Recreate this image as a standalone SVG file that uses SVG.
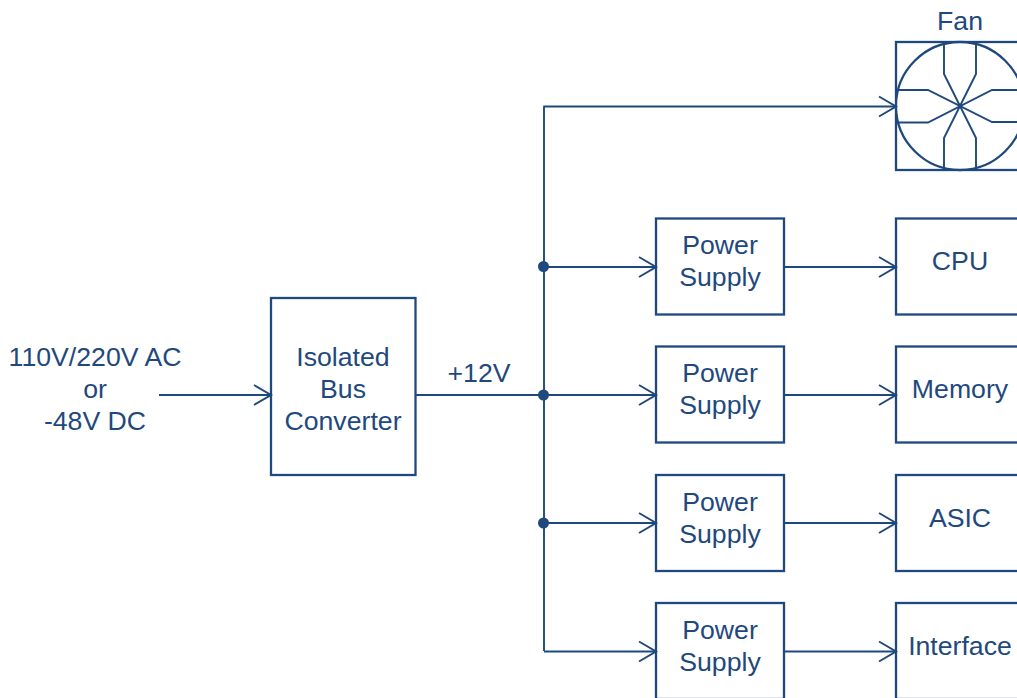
<svg xmlns="http://www.w3.org/2000/svg" width="1017" height="698" viewBox="0 0 1017 698">
<defs>
<style>
.b{fill:#fff;stroke:#1f497d;stroke-width:2.3}
.l{fill:none;stroke:#1f497d;stroke-width:1.9;stroke-linejoin:round}
.f{fill:none;stroke:#1f497d;stroke-width:1.9}
.d{fill:#1f497d}
text{font-family:"Liberation Sans",Arial,sans-serif;font-size:26.670px;fill:#1f497d;text-anchor:middle}
</style>
<marker id="a" markerUnits="userSpaceOnUse" markerWidth="20" markerHeight="24" refX="18" refY="11" orient="auto" overflow="visible"><path d="M1 1L18 11L1 21" fill="none" stroke="#1f497d" stroke-width="2"/></marker>
</defs>
<rect width="1017" height="698" fill="#fff"/>
<g id="input-label"><text x="95" y="366">110V/220V AC</text><text x="95" y="398">or</text><text x="95" y="430">-48V DC</text></g>
<g id="bus-converter"><rect class="b" x="271" y="298" width="144.500" height="177"/><text x="343" y="366">Isolated</text><text x="343" y="398">Bus</text><text x="343" y="430">Converter</text></g>
<g id="fan">
<text x="960" y="30">Fan</text>
<rect class="b" x="896" y="42" width="130" height="128"/>
<circle class="b" cx="960" cy="106" r="64"/>
<path class="f" d="M944 44V74L976 138V168M976 44V74L944 138V168M897 90H928L992 122H1017M897 122.500H928L992 90H1017"/>
</g>
<g id="ps1"><rect class="b" x="656" y="218.500" width="128" height="96"/><text x="720" y="254">Power</text><text x="720" y="286">Supply</text></g>
<g id="ps2"><rect class="b" x="656" y="346.500" width="128" height="96"/><text x="720" y="382">Power</text><text x="720" y="414">Supply</text></g>
<g id="ps3"><rect class="b" x="656" y="475" width="128" height="96"/><text x="720" y="511">Power</text><text x="720" y="543">Supply</text></g>
<g id="ps4"><rect class="b" x="656" y="603" width="128" height="96"/><text x="720" y="639">Power</text><text x="720" y="671">Supply</text></g>
<g id="cpu"><rect class="b" x="896" y="218.500" width="130" height="96"/><text x="960" y="270">CPU</text></g>
<g id="memory"><rect class="b" x="896" y="346.500" width="130" height="96"/><text x="960" y="398">Memory</text></g>
<g id="asic"><rect class="b" x="896" y="475" width="130" height="96"/><text x="960" y="527">ASIC</text></g>
<g id="interface"><rect class="b" x="896" y="603" width="130" height="96"/><text x="960" y="655">Interface</text></g>
<g id="bus-label"><text x="479" y="382">+12V</text></g>
<g id="connectors">
<path class="l" d="M159 395H271" marker-end="url(#a)"/>
<path class="l" d="M416 395H656" marker-end="url(#a)"/>
<path class="l" d="M544 651V106.500L896 106.500" marker-end="url(#a)"/>
<path class="l" d="M544 651.500H656" marker-end="url(#a)"/>
<path class="l" d="M544 267H656" marker-end="url(#a)"/>
<path class="l" d="M544 523H656" marker-end="url(#a)"/>
<path class="l" d="M785 267H896" marker-end="url(#a)"/>
<path class="l" d="M785 395H896" marker-end="url(#a)"/>
<path class="l" d="M785 523H896" marker-end="url(#a)"/>
<path class="l" d="M785 651.500H896" marker-end="url(#a)"/>
<circle class="d" cx="543.500" cy="266.500" r="5.500"/>
<circle class="d" cx="543.500" cy="395" r="5.500"/>
<circle class="d" cx="543.500" cy="523" r="5.500"/>
</g>
</svg>
